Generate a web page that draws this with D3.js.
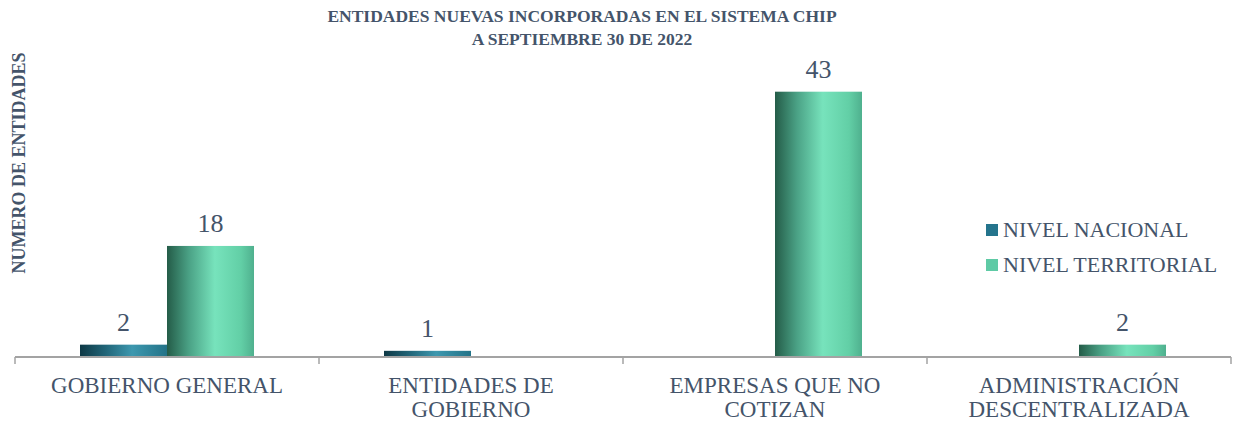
<!DOCTYPE html>
<html>
<head>
<meta charset="utf-8">
<script src="https://cdn.jsdelivr.net/npm/d3@7"></script>
<style>
  body { margin: 0; background: #fff; }
  svg { display: block; font-family: "Liberation Serif", "Times New Roman", serif; }
</style>
</head>
<body>
<svg id="chart"></svg>
<script>
const categories = [["GOBIERNO GENERAL"], ["ENTIDADES DE", "GOBIERNO"], ["EMPRESAS QUE NO", "COTIZAN"], ["ADMINISTRACIÓN", "DESCENTRALIZADA"]];
const series = ["NIVEL NACIONAL", "NIVEL TERRITORIAL"];
const nacional = [2, 1, 0, 0];
const territorial = [18, 0, 43, 2];
const titleLines = ["ENTIDADES NUEVAS INCORPORADAS EN EL SISTEMA CHIP", "A SEPTIEMBRE 30 DE 2022"];
const yTitle = "NUMERO DE ENTIDADES";

const width = 1234, height = 422;
const textColor = "#44546a";
const svg = d3.select("#chart").attr("width", width).attr("height", height);

const defs = svg.append("defs");
function grad(id, stops) {
  const g = defs.append("linearGradient").attr("id", id)
    .attr("x1", "0%").attr("x2", "100%").attr("y1", "0%").attr("y2", "0%");
  stops.forEach(s => g.append("stop").attr("offset", s[0]).attr("stop-color", s[1]));
}
grad("gNac", [["0%", "#0d3845"], ["30%", "#216679"], ["60%", "#3d98af"], ["100%", "#237388"]]);
grad("gTer", [["0%", "#245c48"], ["25%", "#4aa185"], ["55%", "#77e3bc"], ["85%", "#62cfa6"], ["100%", "#4fb08e"]]);

const x0 = d3.scaleBand().domain(d3.range(categories.length)).range([15, 1231]);
const x1 = d3.scaleBand().domain(series).range([65, 239]);
const y = d3.scaleLinear().domain([0, 50]).range([357, 48.5]);

const rows = categories.map((c, i) => ({ i, vals: [nacional[i], territorial[i]] }));
const fills = ["url(#gNac)", "url(#gTer)"];
const legendFills = ["#24748c", "#5fcaa5"];

// bars
const groups = svg.selectAll("g.grp").data(rows).join("g")
  .attr("class", "grp")
  .attr("transform", d => `translate(${x0(d.i)},0)`);

groups.selectAll("rect").data(d => d.vals.map((v, k) => ({ v, k })).filter(e => e.v > 0)).join("rect")
  .attr("x", e => x1(series[e.k]))
  .attr("y", e => y(e.v))
  .attr("width", x1.bandwidth())
  .attr("height", e => y(0) - y(e.v))
  .attr("fill", e => fills[e.k]);

groups.selectAll("text.val").data(d => d.vals.map((v, k) => ({ v, k })).filter(e => e.v > 0)).join("text")
  .attr("class", "val")
  .attr("x", e => x1(series[e.k]) + x1.bandwidth() / 2)
  .attr("y", e => y(e.v) - 14)
  .attr("text-anchor", "middle")
  .attr("font-size", 26)
  .attr("fill", textColor)
  .text(e => e.v);

// x axis
const axisG = svg.append("g").attr("transform", `translate(0,${y(0)})`);
axisG.append("line").attr("x1", 15).attr("x2", 1231).attr("stroke", "#a3a3a3").attr("stroke-width", 2);
const tickXs = d3.range(categories.length + 1).map(i => i < categories.length ? x0(i) : x0.range()[1]);
axisG.selectAll("line.tick").data(tickXs).join("line")
  .attr("class", "tick")
  .attr("x1", d => d).attr("x2", d => d)
  .attr("y1", 0).attr("y2", 7)
  .attr("stroke", "#a3a3a3").attr("stroke-width", 1.5);

svg.selectAll("text.cat").data(categories).join("text")
  .attr("class", "cat")
  .attr("x", (d, i) => x0(i) + x0.bandwidth() / 2)
  .attr("y", 393)
  .attr("text-anchor", "middle")
  .attr("font-size", 23)
  .attr("fill", textColor)
  .selectAll("tspan").data(d => d).join("tspan")
  .attr("x", function () { return this.parentNode.getAttribute("x"); })
  .attr("dy", (d, j) => j === 0 ? 0 : 24)
  .text(d => d);

// title
svg.selectAll("text.title").data(titleLines).join("text")
  .attr("class", "title")
  .attr("x", 582)
  .attr("y", (d, i) => 22 + i * 23)
  .attr("text-anchor", "middle")
  .attr("font-size", 17.5)
  .attr("font-weight", "bold")
  .attr("fill", textColor)
  .text(d => d);

// y title
svg.append("text")
  .attr("transform", "translate(25,163) rotate(-90)")
  .attr("text-anchor", "middle")
  .attr("font-size", 18)
  .attr("font-weight", "bold")
  .attr("fill", textColor)
  .text(yTitle);

// legend
const leg = svg.selectAll("g.leg").data(series).join("g")
  .attr("class", "leg")
  .attr("transform", (d, i) => `translate(986,${224 + i * 35})`);
leg.append("rect").attr("width", 12).attr("height", 12).attr("fill", (d, i) => legendFills[i]);
leg.append("text").attr("x", 17).attr("y", 13)
  .attr("font-size", 22).attr("fill", textColor).text(d => d);
</script>
</body>
</html>
